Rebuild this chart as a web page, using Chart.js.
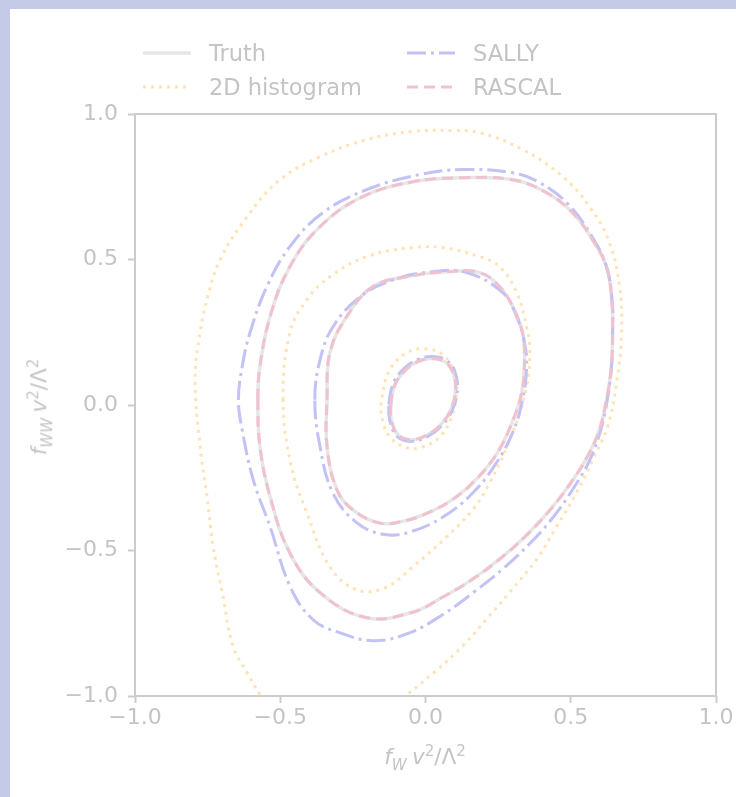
<!DOCTYPE html>
<html>
<head>
<meta charset="utf-8">
<script src="https://cdn.jsdelivr.net/npm/chart.js@4/dist/chart.umd.min.js"></script>
<style>
  html, body { margin: 0; padding: 0; }
  body { width: 736px; height: 797px; background: #c5cae9; position: relative; overflow: hidden;
         font-family: "DejaVu Sans", sans-serif; color: #c4c4c4; }
  #panel { position: absolute; left: 10px; top: 9px; right: 0; bottom: 0; background: #fff; }
  #wrap { position: absolute; left: 0; top: 0; width: 736px; height: 797px; }
  .leg { position: absolute; display: flex; align-items: center; font-size: 22.5px; height: 28px; }
  .leg svg { margin-right: 18px; }
  .axlabel { position: absolute; font-size: 21.5px; white-space: nowrap; font-style: italic; }
  .axlabel sub { font-size: 0.7em; vertical-align: -0.35em; }
  .axlabel sup { font-size: 0.7em; vertical-align: 0.55em; font-style: normal; }
  .axlabel .up { font-style: normal; }
  .axlabel .gap { margin-left: 0.25em; }
</style>
</head>
<body>
<div id="panel"></div>
<div id="wrap"><canvas id="chart" width="736" height="797"></canvas></div>
<div id="legend"></div>
<div class="axlabel" id="xlabel" style="left:425px; top:742px; transform:translateX(-50%);">f<sub>W</sub><span class="gap">v</span><sup>2</sup><span class="up">/Λ</span><sup>2</sup></div>
<div class="axlabel" id="ylabel" style="left:40px; top:407px; transform:translate(-50%,-50%) rotate(-90deg);">f<sub>WW</sub><span class="gap">v</span><sup>2</sup><span class="up">/Λ</span><sup>2</sup></div>
<script>
// contour levels, innermost first, as [f_W, f_WW] pairs
const histInner = [[-0.150, 0.025], [-0.123, 0.121], [-0.064, 0.180], [-0.003, 0.193], [0.059, 0.173], [0.101, 0.111],
  [0.107, 0.046], [0.090, -0.040], [0.049, -0.109], [-0.009, -0.144], [-0.064, -0.147], [-0.123, -0.109], [-0.150, -0.040]];
const histMid = [[-0.490, 0.018], [-0.467, 0.249], [-0.408, 0.362], [-0.329, 0.441], [-0.202, 0.510], [-0.044, 0.541],
  [0.059, 0.541], [0.186, 0.510], [0.255, 0.475], [0.314, 0.386], [0.348, 0.269], [0.359, 0.190], [0.348, 0.063],
  [0.300, -0.095], [0.221, -0.267], [0.162, -0.360], [0.073, -0.453], [-0.044, -0.556], [-0.140, -0.628],
  [-0.236, -0.635], [-0.329, -0.556], [-0.408, -0.372], [-0.465, -0.198]];
const histOuter = [[-0.570, -0.996], [-0.614, -0.920], [-0.662, -0.831], [-0.697, -0.659], [-0.731, -0.487],
  [-0.752, -0.315], [-0.776, -0.143], [-0.793, 0.087], [-0.776, 0.249], [-0.748, 0.379], [-0.707, 0.499],
  [-0.614, 0.647], [-0.501, 0.774], [-0.363, 0.853], [-0.202, 0.912], [-0.044, 0.940], [0.094, 0.943], [0.186, 0.936],
  [0.334, 0.878], [0.472, 0.785], [0.564, 0.682], [0.633, 0.558], [0.668, 0.407], [0.675, 0.249], [0.658, 0.077],
  [0.627, -0.074], [0.576, -0.187], [0.520, -0.301], [0.451, -0.418], [0.382, -0.531], [0.290, -0.643],
  [0.211, -0.735], [0.128, -0.828], [0.032, -0.917], [-0.064, -0.996]];

const sallyInner = [[-0.126, 0.001], [-0.111, 0.074], [-0.075, 0.124], [-0.028, 0.156], [0.022, 0.167], [0.070, 0.155],
  [0.100, 0.118], [0.110, 0.060], [0.095, -0.011], [0.059, -0.068], [0.008, -0.108], [-0.049, -0.125], [-0.096, -0.110],
  [-0.122, -0.059]];
const sallyMid = [[-0.381, 0.018], [-0.363, 0.155], [-0.319, 0.268], [-0.226, 0.371], [-0.112, 0.430], [0.025, 0.458],
  [0.142, 0.455], [0.266, 0.386], [0.314, 0.304], [0.341, 0.214], [0.348, 0.132], [0.334, 0.018], [0.300, -0.095],
  [0.240, -0.205], [0.160, -0.305], [0.060, -0.385], [-0.050, -0.435], [-0.140, -0.445], [-0.236, -0.405],
  [-0.319, -0.302], [-0.363, -0.143]];
const sallyOuter = [[-0.644, 0.018], [-0.631, 0.132], [-0.604, 0.249], [-0.546, 0.407], [-0.467, 0.544], [-0.353, 0.661],
  [-0.202, 0.740], [-0.020, 0.792], [0.128, 0.809], [0.300, 0.798], [0.393, 0.764], [0.486, 0.695], [0.565, 0.592],
  [0.623, 0.475], [0.644, 0.338], [0.644, 0.249], [0.640, 0.132], [0.626, 0.018], [0.602, -0.090], [0.565, -0.190],
  [0.510, -0.285], [0.440, -0.385], [0.360, -0.475], [0.270, -0.560], [0.170, -0.640], [0.060, -0.720],
  [-0.060, -0.785], [-0.181, -0.810], [-0.294, -0.783], [-0.387, -0.738], [-0.466, -0.624], [-0.535, -0.418],
  [-0.593, -0.257], [-0.631, -0.085]];

const rascalInner = [[-0.119, 0.001], [-0.105, 0.070], [-0.071, 0.118], [-0.027, 0.149], [0.021, 0.160], [0.066, 0.149],
  [0.094, 0.114], [0.104, 0.059], [0.090, -0.009], [0.056, -0.064], [0.008, -0.102], [-0.047, -0.119], [-0.092, -0.105],
  [-0.116, -0.057]];
const rascalMid = [[-0.339, 0.018], [-0.329, 0.180], [-0.271, 0.304], [-0.181, 0.407], [-0.064, 0.441], [0.073, 0.458],
  [0.186, 0.455], [0.255, 0.407], [0.300, 0.338], [0.334, 0.249], [0.341, 0.156], [0.331, 0.042], [0.300, -0.055],
  [0.250, -0.160], [0.180, -0.250], [0.100, -0.320], [0.010, -0.370], [-0.080, -0.400], [-0.160, -0.405],
  [-0.250, -0.360], [-0.305, -0.291], [-0.339, -0.143]];
const rascalOuter = [[-0.577, 0.018], [-0.570, 0.132], [-0.535, 0.304], [-0.467, 0.475], [-0.363, 0.613], [-0.216, 0.716],
  [-0.044, 0.767], [0.128, 0.781], [0.300, 0.774], [0.416, 0.730], [0.506, 0.661], [0.575, 0.568], [0.623, 0.475],
  [0.641, 0.362], [0.644, 0.249], [0.640, 0.132], [0.623, 0.018], [0.597, -0.090], [0.553, -0.185], [0.495, -0.275],
  [0.425, -0.365], [0.345, -0.450], [0.255, -0.530], [0.160, -0.600], [0.060, -0.660], [-0.044, -0.712],
  [-0.202, -0.731], [-0.363, -0.645], [-0.467, -0.508], [-0.535, -0.315], [-0.570, -0.143]];

// the truth contours run underneath the RASCAL ones
const truthLevels = [rascalInner, rascalMid, rascalOuter];
const histLevels = [histInner, histMid, histOuter];
const sallyLevels = [sallyInner, sallyMid, sallyOuter];
const rascalLevels = [rascalInner, rascalMid, rascalOuter];

const tickValues = [-1.0, -0.5, 0.0, 0.5, 1.0];

const series = [
  { name: 'Truth', levels: truthLevels, color: '#e6e6e6', dash: [], width: 3.5, order: 4 },
  { name: '2D histogram', levels: histLevels, color: '#ffe3b3', dash: [3, 5], width: 3, order: 3 },
  { name: 'SALLY', levels: sallyLevels, color: '#c2c2f4', dash: [19, 5, 3, 5], width: 3, order: 2 },
  { name: 'RASCAL', levels: rascalLevels, color: '#f1c2cd', dash: [11, 6], width: 3, order: 1 }
];

const datasets = [];
series.forEach(s => {
  s.levels.forEach(lv => {
    datasets.push({
      label: s.name,
      data: lv.map(p => ({ x: p[0], y: p[1] })),
      // a level that leaves the frame at the bottom stays open, the rest are closed loops
      closed: lv[0][1] > -0.99,
      borderColor: s.color,
      borderWidth: s.width,
      borderDash: s.dash,
      borderCapStyle: 'butt',
      pointRadius: 0,
      tension: 0.4,
      fill: false,
      order: s.order
    });
  });
});

// turn the closed levels into loops so the spline runs smoothly through the seam
const closeLoops = {
  id: 'closeLoops',
  afterDatasetsUpdate(chart) {
    chart.data.datasets.forEach((ds, i) => {
      if (!ds.closed) return;
      const line = chart.getDatasetMeta(i).dataset;
      line._loop = true;
      line._fullLoop = true;
      line.points = line.points;
    });
  }
};

const axisColor = '#cccccc';
const fmt = v => v.toFixed(1).replace('-', '\u2212');

// full box round the plot area
const frame = {
  id: 'frame',
  beforeDatasetsDraw(chart) {
    const a = chart.chartArea, ctx = chart.ctx;
    ctx.save();
    ctx.strokeStyle = axisColor;
    ctx.lineWidth = 2;
    ctx.strokeRect(a.left, a.top, a.right - a.left, a.bottom - a.top);
    ctx.restore();
  }
};

function axis(pos, fitSize) {
  return {
    type: 'linear',
    position: pos,
    min: -1, max: 1,
    afterBuildTicks: sc => { sc.ticks = tickValues.map(v => ({ value: v })); },
    afterFit: sc => { if (pos === 'left') sc.width = fitSize; else sc.height = fitSize; },
    border: { display: false },
    grid: { drawOnChartArea: false, drawTicks: true, tickLength: 7, tickWidth: 2, tickColor: axisColor },
    ticks: { color: '#c4c4c4', font: { family: 'DejaVu Sans', size: 22 }, padding: pos === 'left' ? 10 : 2,
             maxRotation: 0, callback: v => fmt(v) }
  };
}

new Chart(document.getElementById('chart'), {
  type: 'line',
  data: { datasets },
  options: {
    responsive: false,
    animation: false,
    layout: { padding: { top: 114, right: 20, left: 0, bottom: 0 } },
    plugins: { legend: { display: false }, tooltip: { enabled: false } },
    scales: { x: axis('bottom', 101), y: axis('left', 135) }
  },
  plugins: [closeLoops, frame]
});

// two-column legend above the plot
const legendSlots = [[143, 39], [143, 73], [407, 39], [407, 73]];
const legendOrder = ['Truth', '2D histogram', 'SALLY', 'RASCAL'];
const legend = document.getElementById('legend');
legendOrder.forEach((name, i) => {
  const s = series.find(q => q.name === name);
  const el = document.createElement('div');
  el.className = 'leg';
  el.style.left = legendSlots[i][0] + 'px';
  el.style.top = legendSlots[i][1] + 'px';
  el.innerHTML = `<svg width="48" height="10"><line x1="0" y1="5" x2="48" y2="5" stroke="${s.color}" stroke-width="${s.width}" stroke-dasharray="${s.dash.join(' ')}"/></svg><span>${name}</span>`;
  legend.appendChild(el);
});
</script>
</body>
</html>
